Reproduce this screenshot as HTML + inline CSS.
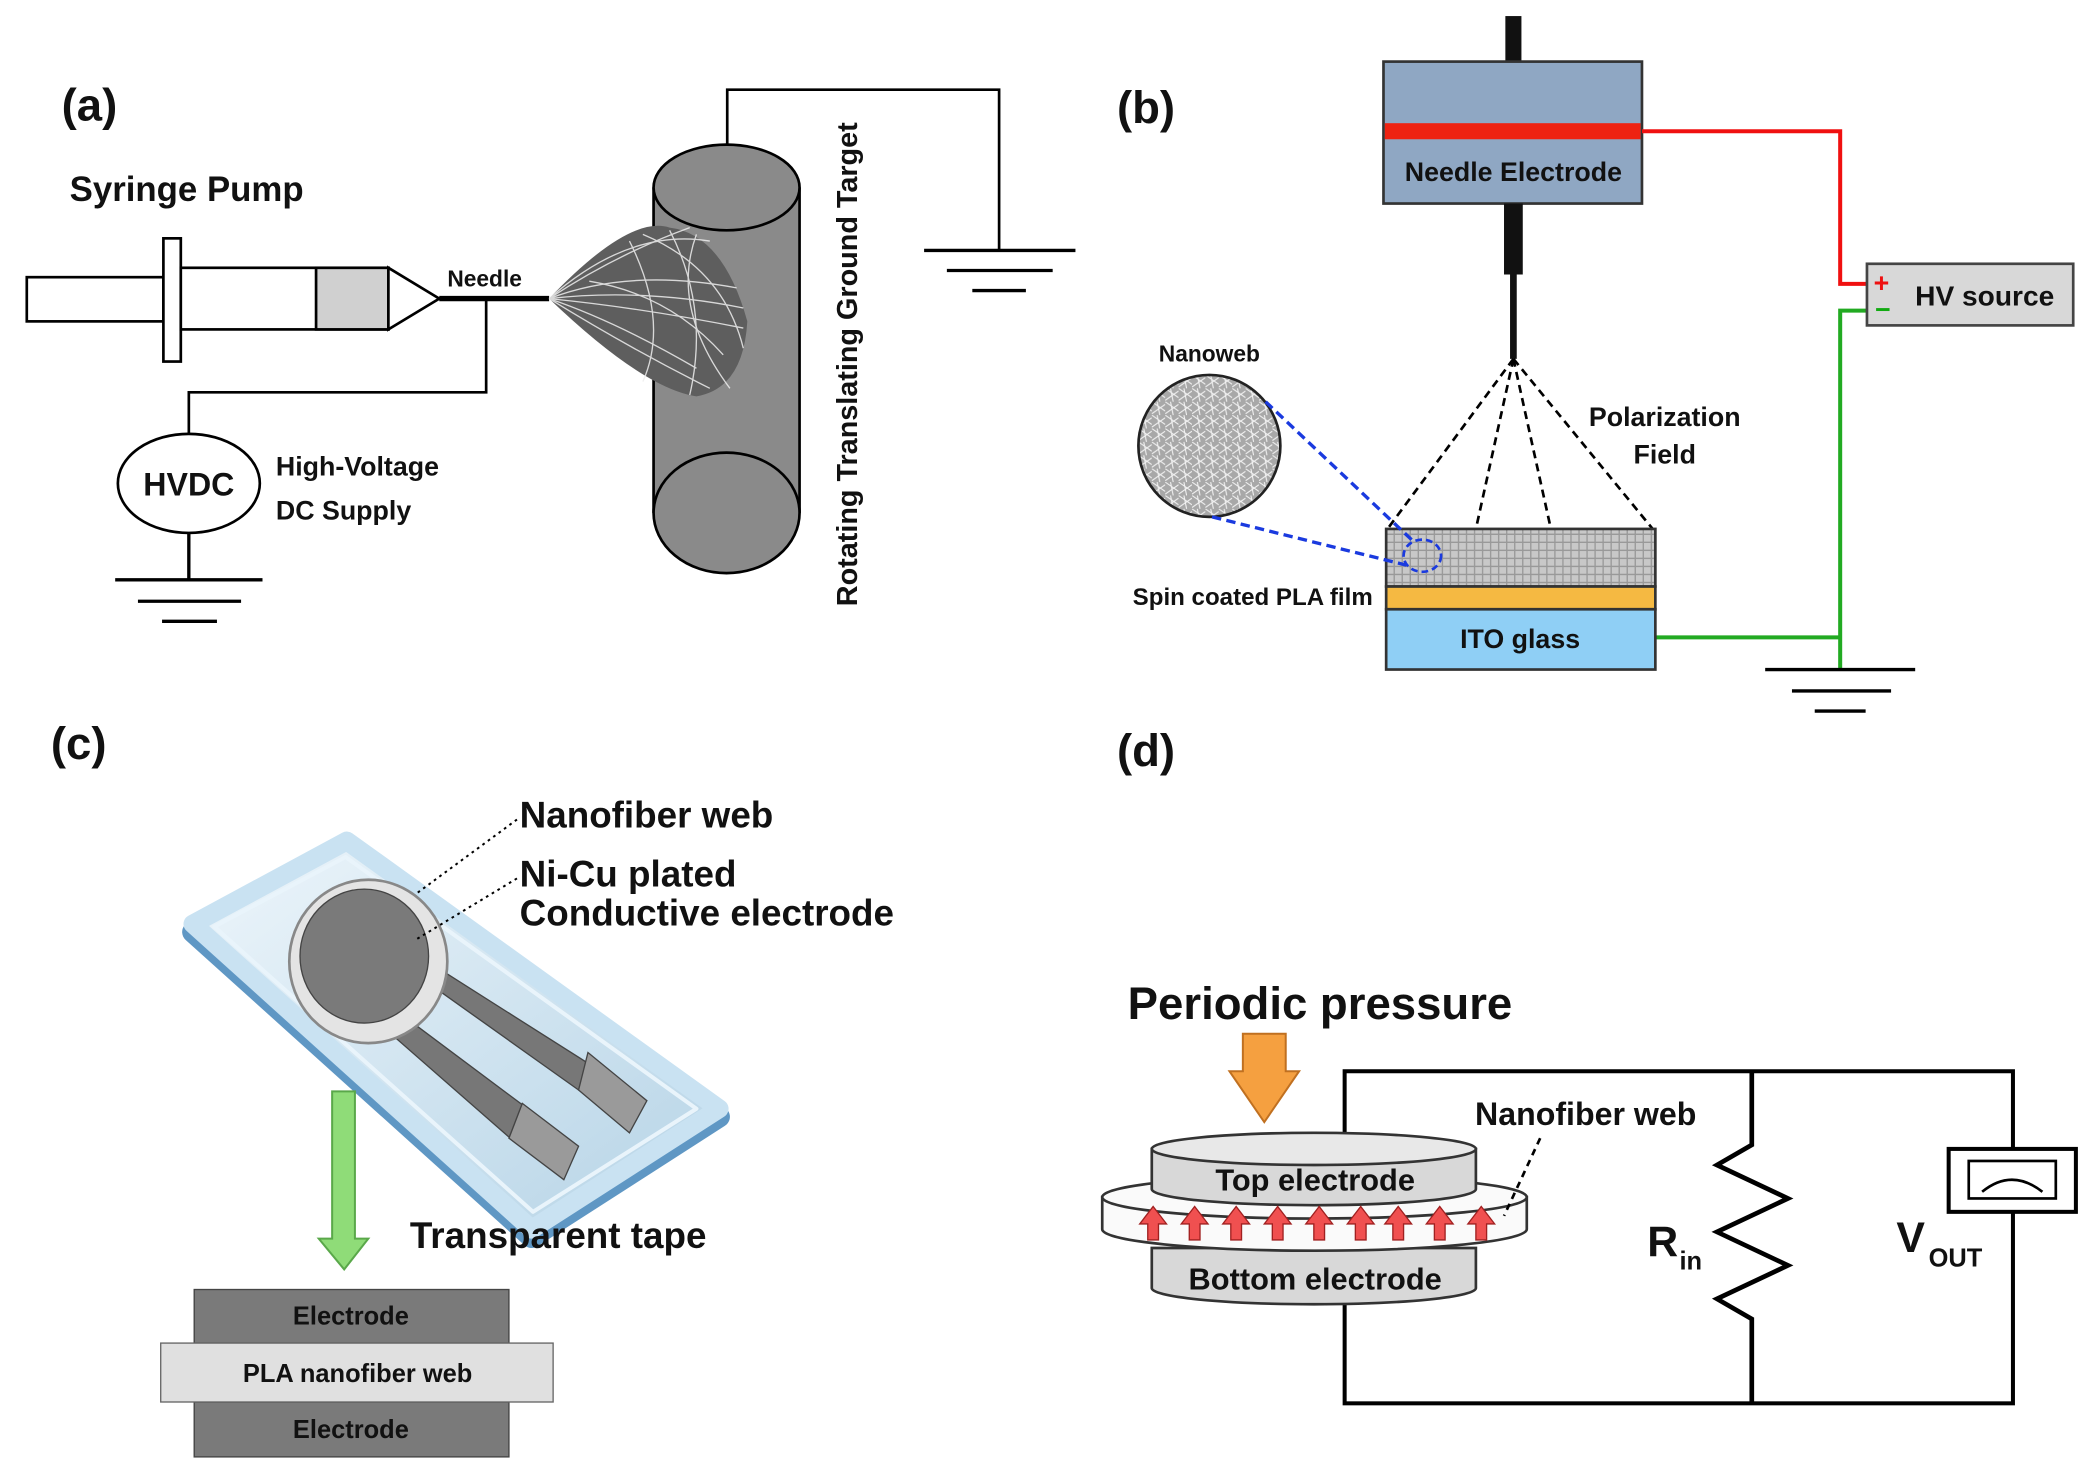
<!DOCTYPE html>
<html><head><meta charset="utf-8"><style>
html,body{margin:0;padding:0;background:#fff}
svg{display:block}
text{font-family:"Liberation Sans",Arial,sans-serif;font-weight:bold;fill:#111}
</style></head><body>
<svg width="2100" height="1481" viewBox="0 0 1568 1106" preserveAspectRatio="none" xmlns="http://www.w3.org/2000/svg">
<defs>
<pattern id="tex" width="6" height="6" patternUnits="userSpaceOnUse">
<rect width="6" height="6" fill="#c8c8c8"/><path d="M0 3h6M3 0v6" stroke="#999" stroke-width="1"/>
</pattern>
<pattern id="web" width="10" height="10" patternUnits="userSpaceOnUse">
<rect width="10" height="10" fill="#a8a8a8"/><path d="M0 0L10 7M0 9L10 2M4 0L6 10" stroke="#f2f2f2" stroke-width="0.8"/>
</pattern>
<linearGradient id="glass" x1="0" y1="0" x2="1" y2="1">
<stop offset="0" stop-color="#eef6fb"/><stop offset="1" stop-color="#b5d3e6"/>
</linearGradient>
</defs>

<!-- (a) -->
<text x="46" y="90" font-size="34">(a)</text>
<text x="52" y="150" font-size="26">Syringe Pump</text>
<rect x="20" y="207" width="102" height="33" fill="#fff" stroke="#000" stroke-width="2"/>
<rect x="122" y="178" width="13" height="92" fill="#fff" stroke="#000" stroke-width="2"/>
<rect x="135" y="200" width="155" height="46" fill="#fff" stroke="#000" stroke-width="2"/>
<rect x="236" y="200" width="54" height="46" fill="#d0d0d0" stroke="#000" stroke-width="2"/>
<polygon points="290,200 328,223 290,246" fill="#fff" stroke="#000" stroke-width="2"/>
<line x1="328" y1="223" x2="410" y2="223" stroke="#000" stroke-width="4"/>
<text x="334" y="214" font-size="17">Needle</text>
<polyline points="363,223 363,293 141,293 141,325" fill="none" stroke="#000" stroke-width="2"/>
<ellipse cx="141" cy="361" rx="53" ry="37" fill="#fff" stroke="#000" stroke-width="2"/>
<text x="141" y="370" font-size="24" text-anchor="middle">HVDC</text>
<text x="206" y="355" font-size="20">High-Voltage</text>
<text x="206" y="388" font-size="20">DC Supply</text>
<g stroke="#000" stroke-width="2.5">
<line x1="141" y1="398" x2="141" y2="433"/>
<line x1="86" y1="433" x2="196" y2="433"/><line x1="103" y1="449" x2="180" y2="449"/><line x1="121" y1="464" x2="162" y2="464"/>
</g>
<rect x="488" y="140" width="109" height="243" fill="#8a8a8a"/>
<line x1="488" y1="140" x2="488" y2="383" stroke="#000" stroke-width="2"/>
<line x1="597" y1="140" x2="597" y2="383" stroke="#000" stroke-width="2"/>
<ellipse cx="542.5" cy="383" rx="54.5" ry="45" fill="#8a8a8a" stroke="#000" stroke-width="2"/>
<ellipse cx="542.5" cy="140" rx="54.5" ry="32" fill="#8a8a8a" stroke="#000" stroke-width="2"/>
<path d="M410,223 Q470,160 500,170 Q540,175 558,240 Q555,290 520,296 Q480,290 410,223Z" fill="#5e5e5e"/>
<g stroke="#eee" stroke-width="1" fill="none" opacity="0.85">
<path d="M410,223 Q470,170 530,180"/><path d="M410,223 Q470,200 550,215"/><path d="M410,223 Q480,230 555,245"/>
<path d="M410,223 Q470,260 530,290"/><path d="M410,223 Q460,240 520,275"/><path d="M410,223 Q460,190 515,170"/>
<path d="M470,180 Q500,240 480,285"/><path d="M500,172 Q530,230 515,295"/><path d="M440,210 Q500,220 540,265"/>
<path d="M410,223 Q480,215 555,230"/><path d="M520,175 Q500,230 545,290"/><path d="M480,175 Q540,200 555,260"/>
</g>
<polyline points="543,108 543,67 746,67 746,187" fill="none" stroke="#000" stroke-width="2"/>
<g stroke="#000" stroke-width="2.5">
<line x1="690" y1="187" x2="803" y2="187"/><line x1="707" y1="202" x2="786" y2="202"/><line x1="726" y1="217" x2="766" y2="217"/>
</g>
<text transform="translate(640,272) rotate(-90)" font-size="21.5" text-anchor="middle">Rotating Translating Ground Target</text>

<!-- (b) -->
<text x="834" y="92" font-size="34">(b)</text>
<rect x="1124" y="12" width="12" height="34" fill="#111"/>
<rect x="1033" y="46" width="193" height="106" fill="#8fa7c3" stroke="#333" stroke-width="2"/>
<rect x="1034" y="92" width="191" height="12" fill="#e21"/>
<text x="1130" y="135" font-size="20" text-anchor="middle">Needle Electrode</text>
<rect x="1123" y="152" width="14" height="53" fill="#111"/>
<line x1="1130" y1="205" x2="1130" y2="268" stroke="#111" stroke-width="5"/>
<polyline points="1226,98 1374,98 1374,212 1394,212" fill="none" stroke="#f01010" stroke-width="3"/>
<polyline points="1394,232 1374,232 1374,500" fill="none" stroke="#22aa22" stroke-width="3"/>
<line x1="1236" y1="476" x2="1374" y2="476" stroke="#22aa22" stroke-width="3"/>
<rect x="1394" y="197" width="154" height="46" fill="#d8d8d8" stroke="#444" stroke-width="2"/>
<text x="1399" y="218" font-size="20" style="fill:#e11">+</text>
<text x="1400" y="238" font-size="20" style="fill:#1a1">−</text>
<text x="1430" y="228" font-size="21">HV source</text>
<g stroke="#000" stroke-width="2.5">
<line x1="1318" y1="500" x2="1430" y2="500"/><line x1="1338" y1="516" x2="1412" y2="516"/><line x1="1355" y1="531" x2="1393" y2="531"/>
</g>
<g stroke="#000" stroke-width="2" stroke-dasharray="6,4">
<line x1="1130" y1="268" x2="1036" y2="395"/><line x1="1130" y1="268" x2="1102" y2="395"/>
<line x1="1130" y1="268" x2="1158" y2="395"/><line x1="1130" y1="268" x2="1234" y2="395"/>
</g>
<text x="1243" y="318" font-size="20" text-anchor="middle">Polarization</text>
<text x="1243" y="346" font-size="20" text-anchor="middle">Field</text>
<rect x="1035" y="395" width="201" height="43" fill="url(#tex)" stroke="#333" stroke-width="2"/>
<rect x="1035" y="438" width="201" height="17" fill="#f5b942" stroke="#333" stroke-width="2"/>
<rect x="1035" y="455" width="201" height="45" fill="#8fcff5" stroke="#333" stroke-width="2"/>
<text x="1135" y="484" font-size="20" text-anchor="middle">ITO glass</text>
<circle cx="903" cy="333" r="53" fill="url(#web)" stroke="#222" stroke-width="2"/>
<text x="903" y="270" font-size="17" text-anchor="middle">Nanoweb</text>
<ellipse cx="1062" cy="415" rx="14" ry="12" fill="none" stroke="#1a3adf" stroke-width="2" stroke-dasharray="5,3"/>
<line x1="945" y1="300" x2="1055" y2="404" stroke="#1a3adf" stroke-width="2.5" stroke-dasharray="7,4"/>
<line x1="905" y1="386" x2="1050" y2="422" stroke="#1a3adf" stroke-width="2.5" stroke-dasharray="7,4"/>
<text x="1025" y="452" font-size="18" text-anchor="end">Spin coated PLA film</text>

<!-- (c) -->
<text x="38" y="567" font-size="34">(c)</text>
<polygon points="144,696 259,634 537,834 397,924" fill="#5f97c4" stroke="#5f97c4" stroke-width="16" stroke-linejoin="round"/>
<polygon points="144,690 259,628 537,828 397,918" fill="url(#glass)" stroke="#c9e2f2" stroke-width="14" stroke-linejoin="round"/>
<polygon points="160,692 258,640 520,828 398,905" fill="none" stroke="#e9f4fb" stroke-width="3" stroke-linejoin="round"/>
<polygon points="324,721 439,794 432,814 321,735" fill="#777" stroke="#444"/>
<polygon points="307,763 390,825 381,850 293,773" fill="#777" stroke="#444"/>
<polygon points="439,786 483,822 470,846 432,814" fill="#9a9a9a" stroke="#444"/>
<polygon points="390,824 432,856 421,881 380,850" fill="#9a9a9a" stroke="#444"/>
<ellipse cx="275" cy="718" rx="59" ry="61" fill="#e4e4e4" stroke="#888" stroke-width="2"/>
<ellipse cx="272" cy="714" rx="48" ry="50" fill="#7a7a7a" stroke="#444"/>
<text x="388" y="618" font-size="27.5">Nanofiber web</text>
<text x="388" y="662" font-size="27.5">Ni-Cu plated</text>
<text x="388" y="691" font-size="27.5">Conductive electrode</text>
<line x1="386" y1="612" x2="310" y2="668" stroke="#000" stroke-width="1.5" stroke-dasharray="2,3"/>
<line x1="386" y1="656" x2="310" y2="702" stroke="#000" stroke-width="1.5" stroke-dasharray="2,3"/>
<polygon points="248,815 265,815 265,925 275,925 257,948 238,925 248,925" fill="#8fdc78" stroke="#5aa84a" stroke-width="1.5"/>
<text x="306" y="932" font-size="27.5">Transparent tape</text>
<rect x="145" y="963" width="235" height="40" fill="#7a7a7a" stroke="#444"/>
<rect x="145" y="1047" width="235" height="41" fill="#7a7a7a" stroke="#444"/>
<rect x="120" y="1003" width="293" height="44" fill="#e0e0e0" stroke="#666"/>
<text x="262" y="989" font-size="19" text-anchor="middle">Electrode</text>
<text x="267" y="1032" font-size="19" text-anchor="middle">PLA nanofiber web</text>
<text x="262" y="1074" font-size="19" text-anchor="middle">Electrode</text>

<!-- (d) -->
<text x="834" y="572" font-size="34">(d)</text>
<text x="842" y="761" font-size="34">Periodic pressure</text>
<polygon points="928,772 960,772 960,800 970,800 944,838 918,800 928,800" fill="#f5a040" stroke="#c07020" stroke-width="1.5"/>
<rect x="1004" y="800" width="499" height="248" fill="none" stroke="#000" stroke-width="3"/>
<polyline points="1308,800 1308,855 1282,870 1335,895 1282,920 1335,945 1282,970 1308,985 1308,1048" fill="none" stroke="#000" stroke-width="3.5"/>
<text x="1230" y="938" font-size="32">R</text><text x="1254" y="948" font-size="19">in</text>
<text x="1416" y="935" font-size="32">V</text><text x="1440" y="946" font-size="19">OUT</text>
<rect x="1455" y="858" width="95" height="47" fill="#fff" stroke="#000" stroke-width="3"/>
<rect x="1470" y="867" width="65" height="28" fill="#fff" stroke="#000" stroke-width="2"/>
<path d="M1480,890 Q1502,872 1525,890" fill="none" stroke="#000" stroke-width="2"/>
<path d="M860,932 L860,962 A121,12 0 0 0 1102,962 L1102,932Z" fill="#d8d8d8" stroke="#333" stroke-width="2"/>
<path d="M823,894 L823,918 A158.5,16 0 0 0 1140,918 L1140,894Z" fill="#fafafa" stroke="#333" stroke-width="2"/>
<ellipse cx="981.5" cy="894" rx="158.5" ry="16" fill="#fafafa" stroke="#333" stroke-width="2"/>
<path d="M860,858 L860,888 A121,12 0 0 0 1102,888 L1102,858Z" fill="#d8d8d8" stroke="#333" stroke-width="2"/>
<ellipse cx="981" cy="858" rx="121" ry="12" fill="#e8e8e8" stroke="#333" stroke-width="2"/>
<text x="982" y="889" font-size="23" text-anchor="middle">Top electrode</text>
<g fill="#f05050" stroke="#a02020" stroke-width="1">
<polygon points="857,926 857,914 851,914 861,901 871,914 865,914 865,926"/>
<polygon points="888,926 888,914 882,914 892,901 902,914 896,914 896,926"/>
<polygon points="919,926 919,914 913,914 923,901 933,914 927,914 927,926"/>
<polygon points="950,926 950,914 944,914 954,901 964,914 958,914 958,926"/>
<polygon points="981,926 981,914 975,914 985,901 995,914 989,914 989,926"/>
<polygon points="1012,926 1012,914 1006,914 1016,901 1026,914 1020,914 1020,926"/>
<polygon points="1040,926 1040,914 1034,914 1044,901 1054,914 1048,914 1048,926"/>
<polygon points="1071,926 1071,914 1065,914 1075,901 1085,914 1079,914 1079,926"/>
<polygon points="1102,926 1102,914 1096,914 1106,901 1116,914 1110,914 1110,926"/>
</g>
<text x="982" y="963" font-size="23" text-anchor="middle">Bottom electrode</text>
<text x="1184" y="840" font-size="24" text-anchor="middle">Nanofiber web</text>
<line x1="1150" y1="850" x2="1123" y2="908" stroke="#000" stroke-width="2" stroke-dasharray="5,4"/>
</svg>
</body></html>
